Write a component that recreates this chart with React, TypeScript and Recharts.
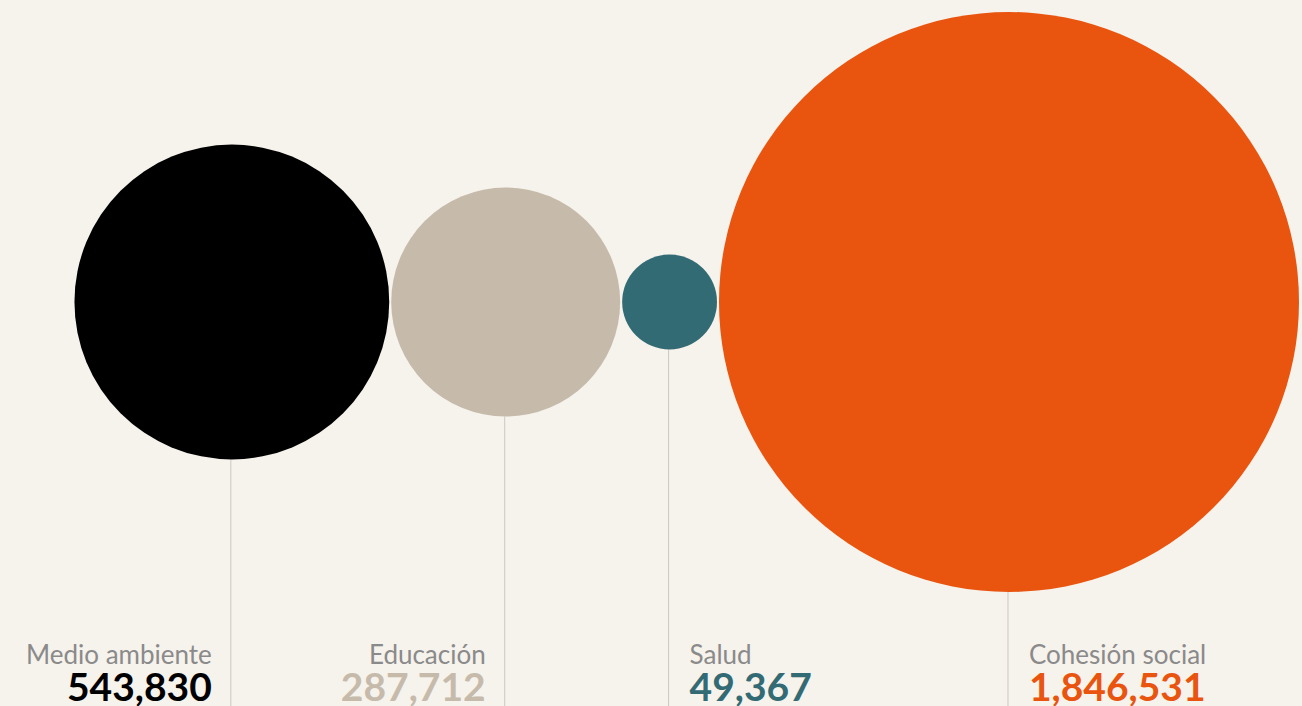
import React from 'react';
import { ScatterChart, Scatter, XAxis, YAxis, ZAxis } from 'recharts';

const categories = ['Medio ambiente', 'Educación', 'Salud', 'Cohesión social'];
const values = [543830, 287712, 49367, 1846531];
const valueLabels = ['543,830', '287,712', '49,367', '1,846,531'];

const colors = ['#000000', '#c6bbab', '#336b74', '#e9540f'];
const labelSide = ['left', 'left', 'right', 'right'];

const W = 1302;
const H = 706;
const BG = '#f6f2ec';
const FONT = 'Lato, "Open Sans", sans-serif';
const R_MAX = 290;
const V_MAX = Math.max(...values);
const AREA_MAX = Math.PI * R_MAX * R_MAX;
const GAP = 2;
const CENTER_Y = 302;
const ANCHOR_X = 1009; // centre of the last (largest) bubble

// bubbles are packed side by side, radius from area ~ value
const radius = (v: number) => R_MAX * Math.sqrt(v / V_MAX);
const centres: number[] = [];
let acc = 0;
values.forEach((v, i) => {
    const r = radius(v);
    acc += (i ? GAP : 0) + r;
    centres.push(acc);
    acc += r;
});
const shift = ANCHOR_X - centres[centres.length - 1];

const data = categories.map((name, i) => ({
    name,
    value: values[i],
    label: valueLabels[i],
    x: centres[i] + shift,
    y: CENTER_Y,
    i,
}));

const Bubble = (props: any) => {
    const { cx, cy, width, size, payload } = props;
    const r = width != null ? width / 2 : Math.sqrt(size / Math.PI);
    const i = payload.i;
    const left = labelSide[i] === 'left';
    const tx = left ? cx - 20 : cx + 20;
    const anchor = left ? 'end' : 'start';
    return (
        <g>
            <line x1={cx - 1} x2={cx - 1} y1={cy + r} y2={H} stroke="#cdc8c1" strokeWidth={1} />
            <circle cx={cx} cy={cy} r={r} fill={colors[i]} />
            <text x={tx} y={664} textAnchor={anchor} fontSize={26} fill="#8a8a8a" fontFamily={FONT}>
                {payload.name}
            </text>
            <text x={tx} y={701} textAnchor={anchor} fontSize={39} fontWeight={700} fill={colors[i]} fontFamily={FONT}>
                {payload.label}
            </text>
        </g>
    );
};

export default function App() {
    return (
        <div style={{ position: 'absolute', left: 0, top: 0, width: W, height: H, background: BG, overflow: 'hidden' }}>
            <ScatterChart width={W} height={H} margin={{ top: 0, right: 0, bottom: 0, left: 0 }}>
                <XAxis type="number" dataKey="x" domain={[0, W]} hide />
                <YAxis type="number" dataKey="y" domain={[0, H]} reversed hide />
                <ZAxis type="number" dataKey="value" domain={[0, V_MAX]} range={[0, AREA_MAX]} />
                <Scatter data={data} shape={<Bubble />} isAnimationActive={false} />
            </ScatterChart>
        </div>
    );
}
